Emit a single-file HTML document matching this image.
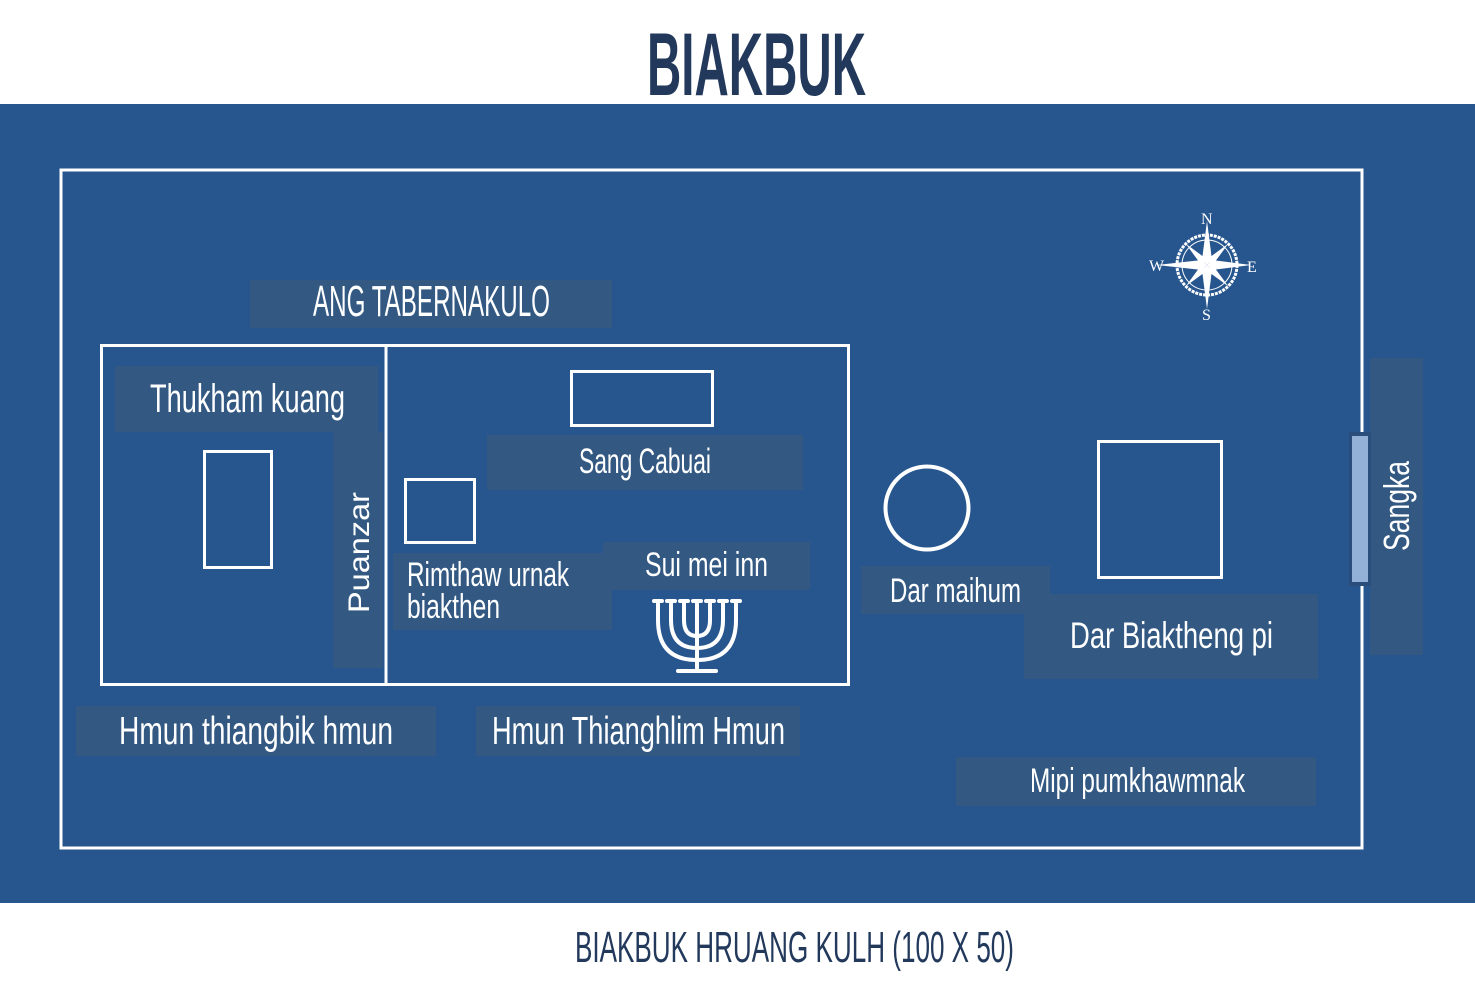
<!DOCTYPE html>
<html><head><meta charset="utf-8"><style>
html,body{margin:0;padding:0;background:#fff;}
svg{display:block;}
text{font-family:"Liberation Sans Narrow","Liberation Sans",sans-serif;fill:#fff;}
</style></head><body>
<svg width="1475" height="994" viewBox="0 0 1475 994" xmlns="http://www.w3.org/2000/svg">
<rect x="0" y="0" width="1475" height="994" fill="#fff"/>
<text x="647" y="95" textLength="219" lengthAdjust="spacingAndGlyphs" font-size="89" font-weight="bold" style="fill:#22395c">BIAKBUK</text>
<rect x="0" y="104" width="1475" height="799" fill="#27568f"/>
<text x="575" y="962" textLength="439" lengthAdjust="spacingAndGlyphs" font-size="44" style="fill:#22395c">BIAKBUK HRUANG KULH (100 X 50)</text>

<!-- label boxes -->
<g fill="#335983">
<rect x="250" y="280" width="362" height="48"/>
<rect x="115" y="366" width="263" height="66"/>
<rect x="333" y="432" width="50" height="236"/>
<rect x="487" y="435" width="316" height="55"/>
<rect x="393" y="553" width="219" height="77"/>
<rect x="603" y="542" width="207" height="48"/>
<rect x="861" y="566" width="189" height="48"/>
<rect x="1024" y="594" width="294" height="85"/>
<rect x="76" y="706" width="360" height="50"/>
<rect x="476" y="706" width="324" height="50"/>
<rect x="956" y="757" width="360" height="49"/>
<rect x="1370" y="358" width="53" height="297"/>
</g>

<g fill="none" stroke="#fff" stroke-width="3">
<rect x="61" y="170" width="1301" height="678"/>
<rect x="101.5" y="345.5" width="747" height="339"/>
<line x1="386" y1="345" x2="386" y2="684"/>
<rect x="204.5" y="451.5" width="67" height="116"/>
<rect x="571.5" y="371.5" width="141" height="54"/>
<rect x="405.5" y="479.5" width="69" height="63"/>
<circle cx="927" cy="508" r="41.5" stroke-width="4"/>
<rect x="1098.5" y="441.5" width="123" height="136"/>
</g>

<rect x="1349" y="432" width="22" height="154" fill="#2a4d7c"/>
<rect x="1352" y="436" width="16" height="146" fill="#93b0d6"/>

<!-- menorah -->
<g stroke="#fff" stroke-width="4" fill="none" stroke-linecap="round">
<line x1="697" y1="602" x2="697" y2="668"/>
<line x1="678" y1="671" x2="716" y2="671"/>
<path d="M684 602 V620 Q684 636 697 636 Q710 636 710 620 V602"/>
<path d="M671 602 V620 Q671 648 697 648 Q723 648 723 620 V602"/>
<path d="M658 602 V620 Q658 660 697 660 Q736 660 736 620 V602"/>
<line x1="654" y1="601" x2="742" y2="601" stroke-dasharray="8 5"/>
</g>

<!-- compass -->
<g transform="translate(1207,265)" fill="#fff" stroke="#fff">
<circle r="30" fill="none" stroke-width="3" stroke-dasharray="3 1"/>
<circle r="25" fill="none" stroke-width="1"/>
<polygon points="0,-44 5,-5 0,0 -5,-5" stroke="none"/>
<polygon points="0,44 5,5 0,0 -5,5" stroke="none"/>
<polygon points="-50,0 -5,-5 0,0 -5,5" stroke="none"/>
<polygon points="44,0 5,-5 0,0 5,5" stroke="none"/>
<g transform="rotate(45)"><polygon points="0,-30 4,-4 -4,-4" stroke="none"/><polygon points="0,30 4,4 -4,4" stroke="none"/><polygon points="-30,0 -4,4 -4,-4" stroke="none"/><polygon points="30,0 4,4 4,-4" stroke="none"/></g>
<g font-family="Liberation Serif,serif" font-size="16" stroke="none">
<text x="-6" y="-41" style="font-family:'Liberation Serif',serif">N</text>
<text x="-5" y="55" style="font-family:'Liberation Serif',serif">S</text>
<text x="-58" y="6" style="font-family:'Liberation Serif',serif">W</text>
<text x="40" y="7" style="font-family:'Liberation Serif',serif">E</text>
</g>
</g>

<!-- texts -->
<text x="313" y="316" textLength="237" lengthAdjust="spacingAndGlyphs" font-size="44">ANG TABERNAKULO</text>
<text x="150" y="412" textLength="195" lengthAdjust="spacingAndGlyphs" font-size="40">Thukham kuang</text>
<text x="579" y="473" textLength="132" lengthAdjust="spacingAndGlyphs" font-size="35">Sang Cabuai</text>
<text x="407" y="586" textLength="162" lengthAdjust="spacingAndGlyphs" font-size="34">Rimthaw urnak</text>
<text x="407" y="618" textLength="93" lengthAdjust="spacingAndGlyphs" font-size="34">biakthen</text>
<text x="645" y="576" textLength="123" lengthAdjust="spacingAndGlyphs" font-size="34">Sui mei inn</text>
<text x="890" y="602" textLength="131" lengthAdjust="spacingAndGlyphs" font-size="34">Dar maihum</text>
<text x="1070" y="648" textLength="203" lengthAdjust="spacingAndGlyphs" font-size="37">Dar Biaktheng pi</text>
<text x="119" y="744" textLength="274" lengthAdjust="spacingAndGlyphs" font-size="39">Hmun thiangbik hmun</text>
<text x="492" y="744" textLength="293" lengthAdjust="spacingAndGlyphs" font-size="39">Hmun Thianghlim Hmun</text>
<text x="1030" y="792" textLength="215" lengthAdjust="spacingAndGlyphs" font-size="34">Mipi pumkhawmnak</text>
<text transform="translate(1409,551) rotate(-90)" x="0" y="0" textLength="90" lengthAdjust="spacingAndGlyphs" font-size="36">Sangka</text>
<text transform="translate(369,613) rotate(-90)" x="0" y="0" textLength="121" lengthAdjust="spacingAndGlyphs" font-size="30" style="font-family:'Liberation Sans',sans-serif">Puanzar</text>
</svg>
</body></html>
